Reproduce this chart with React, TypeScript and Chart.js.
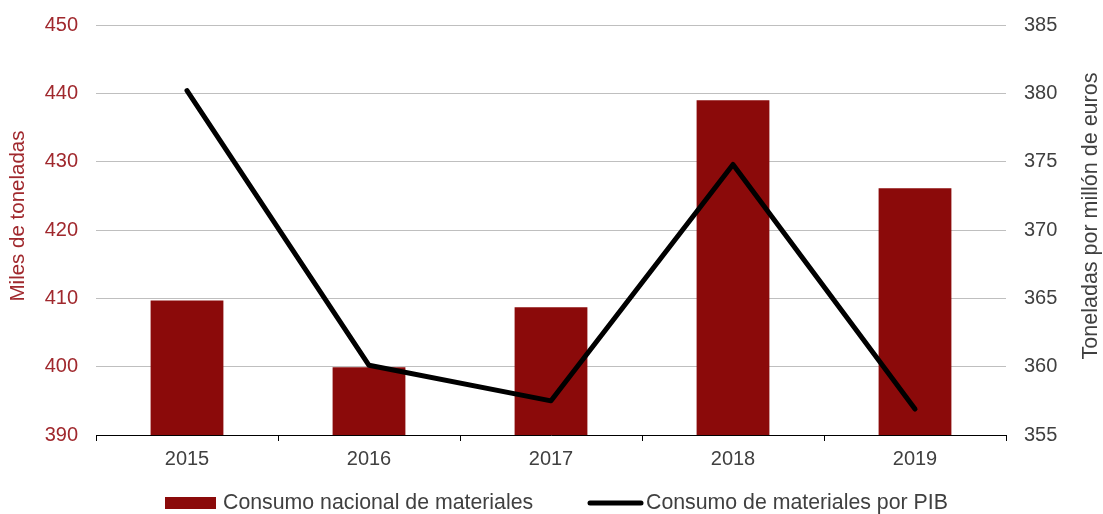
import React, { useEffect, useRef } from "react";
import { Chart, registerables } from "chart.js";

Chart.register(...registerables);

const categories = ["2015", "2016", "2017", "2018", "2019"];
const consumoNacional = [409.7, 399.9, 408.7, 439.0, 426.1];
const consumoPorPIB = [380.2, 360.1, 357.5, 374.8, 356.9];
const leftTitle = "Miles de toneladas";
const rightTitle = "Toneladas por millón de euros";
const barLabel = "Consumo nacional de materiales";
const lineLabel = "Consumo de materiales por PIB";

const BAR_COLOR = "#8B0A0A";
const LEFT_COLOR = "#A0282D";
const TEXT_COLOR = "#404040";
const FONT = "'Liberation Sans', Arial, sans-serif";

const overlayPlugin = {
  id: "overlay",
  afterDraw(chart: any) {
    const ctx = chart.ctx;
    const midY = 216;
    ctx.save();
    ctx.font = `20.5px ${FONT}`;
    ctx.textAlign = "center";
    ctx.textBaseline = "middle";
    ctx.fillStyle = LEFT_COLOR;
    ctx.translate(18, midY);
    ctx.rotate(-Math.PI / 2);
    ctx.fillText(leftTitle, 0, 0);
    ctx.restore();

    ctx.save();
    ctx.font = `21.5px ${FONT}`;
    ctx.textAlign = "center";
    ctx.textBaseline = "middle";
    ctx.fillStyle = TEXT_COLOR;
    ctx.translate(1091, midY);
    ctx.rotate(-Math.PI / 2);
    ctx.fillText(rightTitle, 0, 0);
    ctx.restore();

    const ly = 503;
    ctx.save();
    ctx.fillStyle = BAR_COLOR;
    ctx.fillRect(165, ly - 6, 51, 12);
    ctx.strokeStyle = "#000";
    ctx.lineWidth = 5;
    ctx.lineCap = "round";
    ctx.beginPath();
    ctx.moveTo(590, ly);
    ctx.lineTo(641, ly);
    ctx.stroke();
    ctx.font = `21.3px ${FONT}`;
    ctx.fillStyle = TEXT_COLOR;
    ctx.textAlign = "left";
    ctx.textBaseline = "middle";
    ctx.fillText(chart.data.datasets[0].label, 223, ly);
    ctx.fillText(chart.data.datasets[1].label, 646, ly);
    ctx.restore();
  },
};

export default function App() {
  const ref = useRef<HTMLCanvasElement | null>(null);
  useEffect(() => {
    if (!ref.current) return;
    const chart = new Chart(ref.current, {
      type: "bar",
      data: {
        labels: categories,
        datasets: [
          {
            type: "bar",
            label: barLabel,
            data: consumoNacional,
            backgroundColor: BAR_COLOR,
            yAxisID: "y",
            barPercentage: 0.4,
            categoryPercentage: 1,
            order: 1,
          },
          {
            type: "line",
            label: lineLabel,
            data: consumoPorPIB,
            borderColor: "#000",
            borderWidth: 5,
            pointRadius: 0,
            tension: 0,
            borderCapStyle: "round",
            borderJoinStyle: "round",
            yAxisID: "y1",
            order: 0,
          } as any,
        ],
      },
      options: {
        responsive: false,
        animation: false,
        layout: { padding: { top: 25, bottom: 0, left: 0, right: 0 } },
        plugins: {
          legend: { display: false },
          tooltip: { enabled: false },
        },
        scales: {
          x: {
            offset: true,
            grid: {
              offset: true,
              drawOnChartArea: false,
              drawTicks: true,
              tickLength: 6,
              color: "#000",
            },
            border: { display: true, color: "#000", width: 1 },
            ticks: {
              color: TEXT_COLOR,
              font: { family: FONT, size: 20 },
              padding: 6,
              maxRotation: 0,
            },
            afterFit: (s: any) => {
              s.height = 79;
              s.paddingLeft = 0;
              s.paddingRight = 0;
            },
          },
          y: {
            position: "left",
            min: 390,
            max: 450,
            ticks: {
              stepSize: 10,
              color: LEFT_COLOR,
              font: { family: FONT, size: 20 },
              padding: 18,
            },
            grid: { color: "#BFBFBF", lineWidth: 1, drawTicks: false },
            border: { display: false },
            afterFit: (s: any) => {
              s.width = 96;
              s.paddingTop = 0;
              s.paddingBottom = 0;
            },
          },
          y1: {
            position: "right",
            min: 355,
            max: 385,
            ticks: {
              stepSize: 5,
              color: TEXT_COLOR,
              font: { family: FONT, size: 20 },
              padding: 18,
            },
            grid: { drawOnChartArea: false, drawTicks: false },
            border: { display: false },
            afterFit: (s: any) => {
              s.width = 97;
              s.paddingTop = 0;
              s.paddingBottom = 0;
            },
          },
        },
      },
      plugins: [overlayPlugin],
    });
    return () => chart.destroy();
  }, []);

  return (
    <div style={{ position: "absolute", left: 0, top: 0, width: 1103, height: 514, background: "#fff" }}>
      <canvas ref={ref} width={1103} height={514} style={{ display: "block" }} />
    </div>
  );
}
